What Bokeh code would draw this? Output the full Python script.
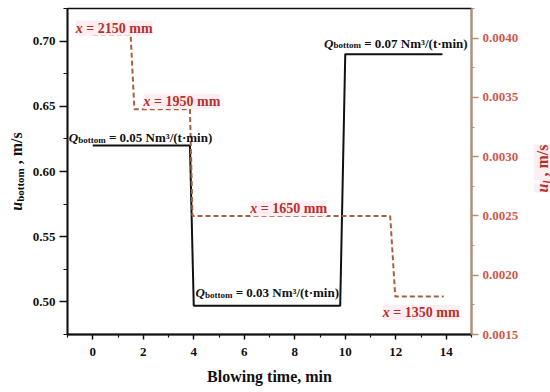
import math
from bokeh.plotting import figure
from bokeh.layouts import row
from bokeh.models import Range1d, LinearAxis, Label, FixedTicker, PrintfTickFormatter
from bokeh.embed import file_html
from bokeh.resources import INLINE

# ---- data ----
time_black = [0.0, 3.85, 4.0, 9.8, 10.0, 13.85]
u_bottom = [0.620, 0.620, 0.497, 0.497, 0.690, 0.690]
time_red = [0.0, 1.5, 1.65, 3.85, 3.95, 11.78, 11.98, 13.9]
u_l = [0.00403, 0.00403, 0.00340, 0.00340, 0.00250, 0.00250, 0.00182, 0.00182]

x_ticks = [0, 2, 4, 6, 8, 10, 12, 14]
x_minor = [-1, 1, 3, 5, 7, 9, 11, 13, 15]
left_ticks = [0.50, 0.55, 0.60, 0.65, 0.70]
left_minor = [0.475, 0.525, 0.575, 0.625, 0.675, 0.725]
right_ticks = [0.0015, 0.0020, 0.0025, 0.0030, 0.0035, 0.0040]
right_minor = [0.00175, 0.00225, 0.00275, 0.00325, 0.00375, 0.00425]

FONT = "Liberation Serif"
BLACK = "#111111"
RED_TXT = "#b8302a"
RED_LINE = "#a8603c"
TAN = "#b8906c"
RED_TICK = "#cc5a4e"
PINK = "#fdeef3"
NB = "\u00a0"

H = 392
LS, RS = 28, 24          # widths of the side strips holding the rotated axis titles
MW = 550 - LS - RS       # main figure width
BL, BR, BT, BB = 67 - LS, MW - (471 - LS), 8, 58
FRAME_H = H - BT - BB

XR = (-1, 15)
YL = (0.475, 0.725)
YR = (0.0015, 0.00425)

p = figure(width=MW, height=H, output_backend="svg", toolbar_location=None,
           x_range=Range1d(*XR), y_range=Range1d(*YL),
           min_border_left=BL, min_border_right=BR, min_border_top=BT, min_border_bottom=BB)
p.extra_y_ranges = {"ul": Range1d(*YR)}
p.grid.visible = False
p.outline_line_color = BLACK
p.outline_line_width = 1.5
p.background_fill_color = "white"
p.border_fill_color = "white"

# axes styling
xa = p.xaxis[0]
xa.ticker = FixedTicker(ticks=x_ticks, minor_ticks=x_minor)
xa.axis_label = "Blowing time, min"
xa.axis_label_text_font = FONT
xa.axis_label_text_font_style = "bold"
xa.axis_label_text_font_size = "16px"
xa.axis_label_text_color = BLACK
xa.axis_label_standoff = 9
ya = p.yaxis[0]
ya.ticker = FixedTicker(ticks=left_ticks, minor_ticks=left_minor)
ya.formatter = PrintfTickFormatter(format="%.2f")

ra = LinearAxis(y_range_name="ul")
ra.ticker = FixedTicker(ticks=right_ticks, minor_ticks=right_minor)
ra.formatter = PrintfTickFormatter(format="%.4f")
p.add_layout(ra, "right")

for ax in (xa, ya, ra):
    ax.major_label_text_font = FONT
    ax.major_label_text_font_style = "bold"
    ax.major_label_text_font_size = "13px"
    ax.axis_line_width = 1.8
    ax.major_tick_line_width = 1.5
    ax.minor_tick_line_width = 1.2
    ax.major_tick_in = 0
    ax.minor_tick_in = 0
for ax in (xa, ya):
    ax.axis_line_color = BLACK
    ax.major_tick_line_color = BLACK
    ax.minor_tick_line_color = BLACK
    ax.major_label_text_color = BLACK
xa.major_tick_out = 5
xa.minor_tick_out = 3
xa.major_label_standoff = 8
ya.major_tick_out = 8
ya.minor_tick_out = 4
ya.major_label_standoff = 4
ra.major_tick_out = 7
ra.minor_tick_out = 3
ra.major_label_standoff = 4
ra.axis_line_color = TAN
ra.major_tick_line_color = TAN
ra.minor_tick_line_color = TAN
ra.major_label_text_color = RED_TICK

# series
p.line(time_black, u_bottom, line_color=BLACK, line_width=2)
p.line(time_red, u_l, line_color=RED_LINE, line_width=2, line_dash="5 3", y_range_name="ul")

# ---- rich text helpers ----
CW = {' ': 250, NB: 250, ',': 250, '.': 250, '/': 278, '(': 333, ')': 333, '=': 570, 'N': 722,
      'm': 833, 'i': 278, 'n': 556, 't': 333, 'b': 556, 'o': 500, 's': 389, '\u00b7': 250,
      '\u00b3': 300, 'x': 500, 'Q': 722, 'u': 556, 'l': 278}


def tw(s, size):
    return sum(CW.get(c, 500) for c in s) / 1000.0 * size


def rich_h(fig, pieces, x, y, yspan, y_range_name="default", color=BLACK, bg=None):
    """pieces: (text, size_px, style, drop_px)"""
    off = 0.0
    per_px = (yspan[1] - yspan[0]) / FRAME_H
    for text, size, style, drop in pieces:
        lab = Label(x=x, y=y - drop * per_px, x_offset=off, text=text,
                    text_font=FONT, text_font_size=f"{size}px", text_font_style=style,
                    text_color=color, text_baseline="alphabetic", text_align="left",
                    y_range_name=y_range_name)
        if bg:
            lab.background_fill_color = bg
        fig.add_layout(lab)
        off += tw(text, size)


def rich_v(fig, pieces, x, y_center, yspan, color=BLACK, bg=None):
    per_px = (yspan[1] - yspan[0]) / FRAME_H
    total = sum(tw(t, s) for t, s, _, _ in pieces)
    y = y_center - total / 2 * per_px
    for text, size, style, shift in pieces:
        lab = Label(x=x + shift, y=y, text=text, angle=math.pi / 2,
                    text_font=FONT, text_font_size=f"{size}px", text_font_style=style,
                    text_color=color, text_baseline="alphabetic", text_align="left")
        if bg:
            lab.background_fill_color = bg
        fig.add_layout(lab)
        y += tw(text, size) * per_px


# Q annotations (black)
def q_text(val):
    return [("Q", 13, "bold italic", 0), ("bottom", 9, "bold", 2),
            (NB + "=" + NB + val + NB + "Nm\u00b3/(t\u00b7min)", 13, "bold", 0)]


rich_h(p, q_text("0.05"), -0.95, 0.626, YL)
rich_h(p, q_text("0.03"), 4.07, 0.507, YL)
rich_h(p, q_text("0.07"), 9.16, 0.6985, YL)

# x annotations (red)
for xx, yy, val in [(-0.67, 0.004085, "2150"), (2.01, 0.003466, "1950"),
                    (6.24, 0.00256, "1650"), (11.49, 0.001686, "1350")]:
    rich_h(p, [("x", 14, "bold italic", 0), (NB + "=" + NB + val + NB + "mm", 14, "bold", 0)],
           xx, yy, YR, "ul", RED_TXT, PINK)


# side strips with rotated axis titles (x range in pixels)
def strip(w, yr):
    s = figure(width=w, height=H, output_backend="svg", toolbar_location=None,
               x_range=Range1d(0, w), y_range=Range1d(*yr),
               x_axis_type=None, y_axis_type=None,
               min_border_left=0, min_border_right=0, min_border_top=BT, min_border_bottom=BB)
    s.grid.visible = False
    s.outline_line_color = None
    s.background_fill_color = "white"
    s.border_fill_color = "white"
    return s


sl = strip(LS, YL)
rich_v(sl, [("u", 16, "bold italic", 0), ("bottom", 11, "bold", 3),
            (NB + "," + NB + "m/s", 16, "bold", 0)], 16, 0.600, YL)
sr = strip(RS, YR)
rich_v(sr, [("u", 16, "bold italic", 0), ("l", 11, "bold italic", 3),
            (NB + "," + NB + "m/s", 16, "bold", 0)], 542 - (550 - RS), 0.00290, YR, RED_TXT, PINK)

layout = row(sl, p, sr, spacing=0)
open("out.html", "w").write(file_html(layout, INLINE))
